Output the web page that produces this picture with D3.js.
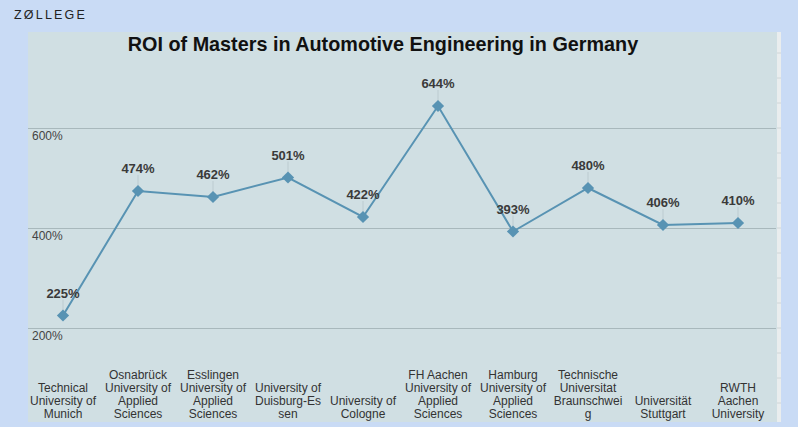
<!DOCTYPE html>
<html><head><meta charset="utf-8">
<script src="https://cdn.jsdelivr.net/npm/d3@7"></script>
<style>
html,body{margin:0;padding:0;background:#c9dbf5;}
svg{display:block;}
</style></head>
<body>
<svg id="c" width="798" height="427"></svg>
<script>
const categories = [
  ["Technical","University of","Munich"],
  ["Osnabrück","University of","Applied","Sciences"],
  ["Esslingen","University of","Applied","Sciences"],
  ["University of","Duisburg-Es","sen"],
  ["University of","Cologne"],
  ["FH Aachen","University of","Applied","Sciences"],
  ["Hamburg","University of","Applied","Sciences"],
  ["Technische","Universitat","Braunschwei","g"],
  ["Universität","Stuttgart"],
  ["RWTH","Aachen","University"]
];
const roiValues = [225, 474, 462, 501, 422, 644, 393, 480, 406, 410];
const yTicks = [200, 400, 600];
const titleText = "ROI of Masters in Automotive Engineering in Germany";

const svg = d3.select("#c");
const font = "Arial, 'Liberation Sans', sans-serif";

// logo
svg.append("text").attr("x",14).attr("y",19).attr("font-family",font)
  .attr("font-size",12.5).attr("letter-spacing",2.2).attr("fill","#222").text("ZØLLEGE");

// panel
const panel = {x0:28, y0:32, x1:777, y1:422};
svg.append("rect").attr("x",panel.x0).attr("y",panel.y0)
  .attr("width",panel.x1-panel.x0).attr("height",panel.y1-panel.y0).attr("fill","#d0dfe3");
// right strip
svg.append("rect").attr("x",777).attr("y",panel.y0).attr("width",4).attr("height",panel.y1-panel.y0).attr("fill","#e9edee");

const x = d3.scaleBand().domain(d3.range(categories.length)).range([25.5,775.5]);
const y = d3.scaleLinear().domain([0,800]).range([428,28]);

// right strip ticks
const stripTicks = d3.range(0,800,50).filter(v=>y(v)>panel.y0+5 && y(v)<panel.y1-2);
svg.append("g").selectAll("line").data(stripTicks).join("line")
  .attr("x1",777).attr("x2",781).attr("y1",d=>y(d)).attr("y2",d=>y(d))
  .attr("stroke","#cfd6d8").attr("stroke-width",1);

// grid
const grid = svg.append("g").attr("transform",`translate(${panel.x0},0)`)
  .call(d3.axisRight(y).tickValues(yTicks).tickSize(panel.x1-panel.x0-1).tickFormat(""));
grid.select(".domain").remove();
grid.selectAll(".tick line").attr("stroke","#a8b8bc").attr("stroke-width",1.2);

// y tick labels
svg.append("g").selectAll("text").data(yTicks).join("text")
  .attr("x",32).attr("y",d=>y(d)+12).attr("font-family",font).attr("font-size",12)
  .attr("fill","#444").text(d=>d+"%");

// title
svg.append("text").attr("x",383).attr("y",51).attr("text-anchor","middle")
  .attr("font-family",font).attr("font-weight","bold").attr("font-size",19.8).attr("fill","#111").text(titleText);

// x labels
const xl = svg.append("g");
categories.forEach((lines,i)=>{
  const cx = x(i)+x.bandwidth()/2;
  const n = lines.length;
  lines.forEach((t,j)=>{
    xl.append("text").attr("x",cx).attr("y",418-(n-1-j)*13).attr("text-anchor","middle")
      .attr("font-family",font).attr("font-size",12).attr("fill","#333").text(t);
  });
});

const cxF = i => x(i)+x.bandwidth()/2;
// leader lines
svg.append("g").selectAll("line").data(roiValues).join("line")
  .attr("x1",(d,i)=>cxF(i)).attr("x2",(d,i)=>cxF(i))
  .attr("y1",d=>y(d)-16).attr("y2",d=>y(d)-4)
  .attr("stroke","#bccbd0").attr("stroke-width",1);

// line
svg.append("path").datum(roiValues)
  .attr("d",d3.line().x((d,i)=>cxF(i)).y(d=>y(d)))
  .attr("fill","none").attr("stroke","#5893b3").attr("stroke-width",2);

// markers
svg.append("g").selectAll("path").data(roiValues).join("path")
  .attr("d",d3.symbol(d3.symbolSquare,75))
  .attr("transform",(d,i)=>`translate(${cxF(i)},${y(d)}) rotate(45)`)
  .attr("fill","#5893b3");

// data labels
svg.append("g").selectAll("text").data(roiValues).join("text")
  .attr("x",(d,i)=>cxF(i)).attr("y",d=>y(d)-18).attr("text-anchor","middle")
  .attr("font-family",font).attr("font-weight","bold").attr("font-size",13).attr("fill","#3a3a3a")
  .text(d=>d+"%");
</script>
</body></html>
